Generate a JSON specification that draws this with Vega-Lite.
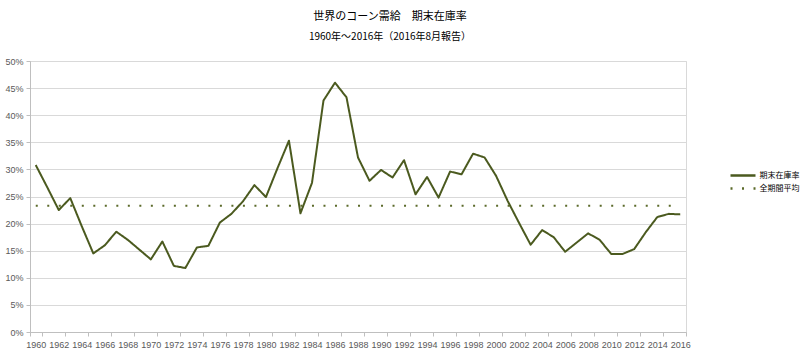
{
  "$schema": "https://vega.github.io/schema/vega-lite/v6.json",
  "width": 656,
  "height": 271,
  "autosize": {"type": "none"},
  "padding": {"left": 30, "top": 61, "right": 114, "bottom": 23},
  "background": "white",
  "title": {
    "text": "世界のコーン需給　期末在庫率",
    "subtitle": "1960年～2016年（2016年8月報告）",
    "anchor": "middle",
    "frame": "group",
    "dx": 32,
    "offset": 15,
    "font": "Noto Sans CJK JP",
    "fontSize": 11,
    "fontWeight": "normal",
    "color": "#000000",
    "subtitleFont": "Noto Sans CJK JP",
    "subtitleFontSize": 10,
    "subtitleColor": "#000000",
    "subtitlePadding": 10
  },
  "config": {
    "view": {"stroke": "#d9d9d9", "strokeWidth": 1},
    "axis": {"labelFont": "Liberation Sans", "labelFontSize": 9, "labelColor": "#595959"}
  },
  "data": {
    "values": [
      {"year": 1960, "series": "期末在庫率", "value": 0.308},
      {"year": 1961, "series": "期末在庫率", "value": 0.267},
      {"year": 1962, "series": "期末在庫率", "value": 0.225},
      {"year": 1963, "series": "期末在庫率", "value": 0.247},
      {"year": 1964, "series": "期末在庫率", "value": 0.195},
      {"year": 1965, "series": "期末在庫率", "value": 0.145},
      {"year": 1966, "series": "期末在庫率", "value": 0.160},
      {"year": 1967, "series": "期末在庫率", "value": 0.185},
      {"year": 1968, "series": "期末在庫率", "value": 0.170},
      {"year": 1969, "series": "期末在庫率", "value": 0.152},
      {"year": 1970, "series": "期末在庫率", "value": 0.134},
      {"year": 1971, "series": "期末在庫率", "value": 0.167},
      {"year": 1972, "series": "期末在庫率", "value": 0.122},
      {"year": 1973, "series": "期末在庫率", "value": 0.118},
      {"year": 1974, "series": "期末在庫率", "value": 0.156},
      {"year": 1975, "series": "期末在庫率", "value": 0.159},
      {"year": 1976, "series": "期末在庫率", "value": 0.202},
      {"year": 1977, "series": "期末在庫率", "value": 0.218},
      {"year": 1978, "series": "期末在庫率", "value": 0.241},
      {"year": 1979, "series": "期末在庫率", "value": 0.271},
      {"year": 1980, "series": "期末在庫率", "value": 0.249},
      {"year": 1981, "series": "期末在庫率", "value": 0.302},
      {"year": 1982, "series": "期末在庫率", "value": 0.353},
      {"year": 1983, "series": "期末在庫率", "value": 0.219},
      {"year": 1984, "series": "期末在庫率", "value": 0.275},
      {"year": 1985, "series": "期末在庫率", "value": 0.427},
      {"year": 1986, "series": "期末在庫率", "value": 0.460},
      {"year": 1987, "series": "期末在庫率", "value": 0.433},
      {"year": 1988, "series": "期末在庫率", "value": 0.322},
      {"year": 1989, "series": "期末在庫率", "value": 0.279},
      {"year": 1990, "series": "期末在庫率", "value": 0.299},
      {"year": 1991, "series": "期末在庫率", "value": 0.285},
      {"year": 1992, "series": "期末在庫率", "value": 0.317},
      {"year": 1993, "series": "期末在庫率", "value": 0.254},
      {"year": 1994, "series": "期末在庫率", "value": 0.286},
      {"year": 1995, "series": "期末在庫率", "value": 0.248},
      {"year": 1996, "series": "期末在庫率", "value": 0.296},
      {"year": 1997, "series": "期末在庫率", "value": 0.291},
      {"year": 1998, "series": "期末在庫率", "value": 0.329},
      {"year": 1999, "series": "期末在庫率", "value": 0.322},
      {"year": 2000, "series": "期末在庫率", "value": 0.288},
      {"year": 2001, "series": "期末在庫率", "value": 0.242},
      {"year": 2002, "series": "期末在庫率", "value": 0.201},
      {"year": 2003, "series": "期末在庫率", "value": 0.161},
      {"year": 2004, "series": "期末在庫率", "value": 0.188},
      {"year": 2005, "series": "期末在庫率", "value": 0.175},
      {"year": 2006, "series": "期末在庫率", "value": 0.148},
      {"year": 2007, "series": "期末在庫率", "value": 0.165},
      {"year": 2008, "series": "期末在庫率", "value": 0.182},
      {"year": 2009, "series": "期末在庫率", "value": 0.170},
      {"year": 2010, "series": "期末在庫率", "value": 0.144},
      {"year": 2011, "series": "期末在庫率", "value": 0.144},
      {"year": 2012, "series": "期末在庫率", "value": 0.153},
      {"year": 2013, "series": "期末在庫率", "value": 0.184},
      {"year": 2014, "series": "期末在庫率", "value": 0.212},
      {"year": 2015, "series": "期末在庫率", "value": 0.218},
      {"year": 2016, "series": "期末在庫率", "value": 0.217},
      {"year": 1960, "series": "全期間平均", "value": 0.233},
      {"year": 1961, "series": "全期間平均", "value": 0.233},
      {"year": 1962, "series": "全期間平均", "value": 0.233},
      {"year": 1963, "series": "全期間平均", "value": 0.233},
      {"year": 1964, "series": "全期間平均", "value": 0.233},
      {"year": 1965, "series": "全期間平均", "value": 0.233},
      {"year": 1966, "series": "全期間平均", "value": 0.233},
      {"year": 1967, "series": "全期間平均", "value": 0.233},
      {"year": 1968, "series": "全期間平均", "value": 0.233},
      {"year": 1969, "series": "全期間平均", "value": 0.233},
      {"year": 1970, "series": "全期間平均", "value": 0.233},
      {"year": 1971, "series": "全期間平均", "value": 0.233},
      {"year": 1972, "series": "全期間平均", "value": 0.233},
      {"year": 1973, "series": "全期間平均", "value": 0.233},
      {"year": 1974, "series": "全期間平均", "value": 0.233},
      {"year": 1975, "series": "全期間平均", "value": 0.233},
      {"year": 1976, "series": "全期間平均", "value": 0.233},
      {"year": 1977, "series": "全期間平均", "value": 0.233},
      {"year": 1978, "series": "全期間平均", "value": 0.233},
      {"year": 1979, "series": "全期間平均", "value": 0.233},
      {"year": 1980, "series": "全期間平均", "value": 0.233},
      {"year": 1981, "series": "全期間平均", "value": 0.233},
      {"year": 1982, "series": "全期間平均", "value": 0.233},
      {"year": 1983, "series": "全期間平均", "value": 0.233},
      {"year": 1984, "series": "全期間平均", "value": 0.233},
      {"year": 1985, "series": "全期間平均", "value": 0.233},
      {"year": 1986, "series": "全期間平均", "value": 0.233},
      {"year": 1987, "series": "全期間平均", "value": 0.233},
      {"year": 1988, "series": "全期間平均", "value": 0.233},
      {"year": 1989, "series": "全期間平均", "value": 0.233},
      {"year": 1990, "series": "全期間平均", "value": 0.233},
      {"year": 1991, "series": "全期間平均", "value": 0.233},
      {"year": 1992, "series": "全期間平均", "value": 0.233},
      {"year": 1993, "series": "全期間平均", "value": 0.233},
      {"year": 1994, "series": "全期間平均", "value": 0.233},
      {"year": 1995, "series": "全期間平均", "value": 0.233},
      {"year": 1996, "series": "全期間平均", "value": 0.233},
      {"year": 1997, "series": "全期間平均", "value": 0.233},
      {"year": 1998, "series": "全期間平均", "value": 0.233},
      {"year": 1999, "series": "全期間平均", "value": 0.233},
      {"year": 2000, "series": "全期間平均", "value": 0.233},
      {"year": 2001, "series": "全期間平均", "value": 0.233},
      {"year": 2002, "series": "全期間平均", "value": 0.233},
      {"year": 2003, "series": "全期間平均", "value": 0.233},
      {"year": 2004, "series": "全期間平均", "value": 0.233},
      {"year": 2005, "series": "全期間平均", "value": 0.233},
      {"year": 2006, "series": "全期間平均", "value": 0.233},
      {"year": 2007, "series": "全期間平均", "value": 0.233},
      {"year": 2008, "series": "全期間平均", "value": 0.233},
      {"year": 2009, "series": "全期間平均", "value": 0.233},
      {"year": 2010, "series": "全期間平均", "value": 0.233},
      {"year": 2011, "series": "全期間平均", "value": 0.233},
      {"year": 2012, "series": "全期間平均", "value": 0.233},
      {"year": 2013, "series": "全期間平均", "value": 0.233},
      {"year": 2014, "series": "全期間平均", "value": 0.233},
      {"year": 2015, "series": "全期間平均", "value": 0.233},
      {"year": 2016, "series": "全期間平均", "value": 0.233}
    ]
  },
  "mark": {"type": "line", "strokeWidth": 2, "strokeJoin": "round", "strokeCap": "butt"},
  "encoding": {
    "x": {
      "field": "year",
      "type": "ordinal",
      "bandPosition": 0.5,
      "scale": {"type": "band", "paddingInner": 0, "paddingOuter": 0},
      "axis": {
        "title": null,
        "values": [1960,1962,1964,1966,1968,1970,1972,1974,1976,1978,1980,1982,1984,1986,1988,1990,1992,1994,1996,1998,2000,2002,2004,2006,2008,2010,2012,2014,2016],
        "labelAngle": 0,
        "tickBand": "extent",
        "tickSize": 4,
        "tickColor": "#bfbfbf",
        "domainColor": "#bfbfbf",
        "labelPadding": 4,
        "grid": false
      }
    },
    "y": {
      "field": "value",
      "type": "quantitative",
      "scale": {"domain": [0, 0.5], "nice": false},
      "axis": {
        "title": null,
        "format": ".0%",
        "values": [0, 0.05, 0.1, 0.15, 0.2, 0.25, 0.3, 0.35, 0.4, 0.45, 0.5],
        "tickSize": 4,
        "tickColor": "#bfbfbf",
        "domainColor": "#bfbfbf",
        "gridColor": "#d9d9d9",
        "labelPadding": 3
      }
    },
    "color": {
      "field": "series",
      "type": "nominal",
      "sort": ["期末在庫率", "全期間平均"],
      "scale": {"domain": ["期末在庫率", "全期間平均"], "range": ["#4b5a1f", "#5b6a2a"]},
      "legend": {
        "title": null,
        "orient": "none",
        "legendX": 706.5,
        "legendY": 108,
        "symbolType": "M-2.5,0H2.5",
        "symbolSize": 100,
        "symbolStrokeWidth": 2.5,
        "labelFont": "Noto Sans CJK JP",
        "labelFontSize": 8,
        "labelColor": "#000000",
        "rowPadding": 1,
        "labelOffset": 10
      }
    },
    "strokeDash": {
      "field": "series",
      "type": "nominal",
      "sort": ["期末在庫率", "全期間平均"],
      "scale": {"domain": ["期末在庫率", "全期間平均"], "range": [[1, 0], [2, 9.509]]},
      "legend": null
    }
  }
}
